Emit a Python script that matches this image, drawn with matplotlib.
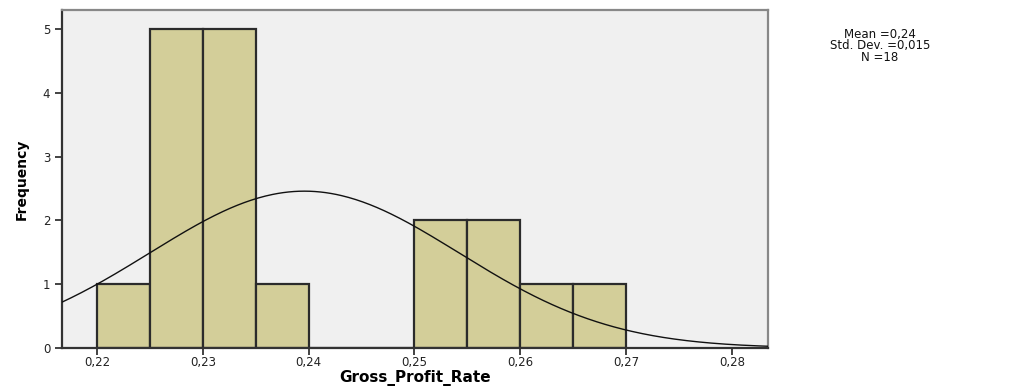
import numpy as np
import matplotlib
matplotlib.use("Agg")
import matplotlib.pyplot as plt
from matplotlib.ticker import FuncFormatter

# Histogram of gross profit rate (bin width 0.005)
bin_edges = [0.220, 0.225, 0.230, 0.235, 0.240, 0.245, 0.250, 0.255, 0.260, 0.265, 0.270]
counts = [1, 5, 5, 1, 0, 0, 2, 2, 1, 1]
mean_value = 0.2396
std_dev = 0.0146
n_obs = 18

x_ticks = [0.22, 0.23, 0.24, 0.25, 0.26, 0.27, 0.28]
y_ticks = [0, 1, 2, 3, 4, 5]

fig = plt.figure(figsize=(10.33, 3.87), dpi=100)
ax = fig.add_axes([0.060, 0.1008, 0.6835, 0.8734])
ax.set_facecolor("#F0F0F0")

widths = np.diff(bin_edges)
ax.bar(bin_edges[:-1], counts, width=widths, align="edge",
       color="#D3CE99", edgecolor="#2b2b2b", linewidth=1.6, zorder=2)

# Normal curve scaled to frequency
xlo, xhi = 0.2167, 0.2834
xs = np.linspace(xlo, xhi, 400)
bw = bin_edges[1] - bin_edges[0]
ys = n_obs * bw / (np.sqrt(2 * np.pi) * std_dev) * np.exp(-0.5 * ((xs - mean_value) / std_dev) ** 2)
ax.plot(xs, ys, color="#111111", linewidth=1.0, zorder=3)

ax.set_xlim(xlo, xhi)
ax.set_ylim(0, 5.30)
ax.set_xticks(x_ticks)
ax.set_yticks(y_ticks)
ax.xaxis.set_major_formatter(FuncFormatter(lambda v, p: f"{v:.2f}".replace(".", ",")))
ax.yaxis.set_major_formatter(FuncFormatter(lambda v, p: f"{int(v)}"))
ax.tick_params(axis="both", direction="out", length=5, width=1.2, colors="#222222",
               labelsize=8.5, labelcolor="#222222")
ax.tick_params(axis="x", pad=0.5)

for side in ("left", "bottom"):
    ax.spines[side].set_color("#333333")
    ax.spines[side].set_linewidth(1.6)
for side in ("top", "right"):
    ax.spines[side].set_color("#888888")
    ax.spines[side].set_linewidth(1.6)

ax.set_xlabel("Gross_Profit_Rate", fontsize=11, fontweight="bold", labelpad=1)
ax.set_ylabel("Frequency", fontsize=10, fontweight="bold",
              family=["Liberation Sans Narrow", "DejaVu Sans"], labelpad=10)

stats = f"Mean ={mean_value:.2f}\nStd. Dev. ={std_dev:.3f}\nN ={n_obs}"
stats = stats.replace("0.", "0,")
fig.text(0.852, 0.928, stats, ha="center", va="top", fontsize=8.5,
         linespacing=0.85, color="#111111")

fig.savefig("out.png", dpi=100)
